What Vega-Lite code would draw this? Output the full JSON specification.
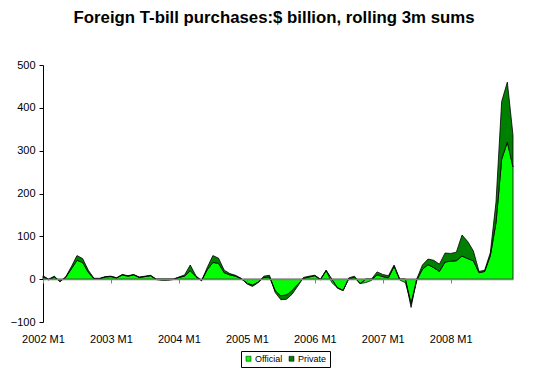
{
  "$schema": "https://vega.github.io/schema/vega-lite/v6.json",
  "autosize": "none",
  "padding": {"left": 43, "top": 65, "right": 34, "bottom": 52},
  "width": 470,
  "height": 257,
  "background": "white",
  "config": {
    "view": {"stroke": null},
    "font": "Liberation Sans"
  },
  "title": {
    "text": "Foreign T-bill purchases:$ billion, rolling 3m sums",
    "font": "Liberation Sans",
    "fontSize": 16.8,
    "fontWeight": "bold",
    "color": "black",
    "anchor": "middle",
    "offset": 32,
    "dx": -4
  },
  "data": {
    "values": [
      {"month": "2002 M1", "Official": 5, "Private": 3},
      {"month": "2002 M2", "Official": -2, "Private": 0},
      {"month": "2002 M3", "Official": 5, "Private": 2},
      {"month": "2002 M4", "Official": -5, "Private": -1},
      {"month": "2002 M5", "Official": 4, "Private": 1},
      {"month": "2002 M6", "Official": 24, "Private": 5},
      {"month": "2002 M7", "Official": 44, "Private": 11},
      {"month": "2002 M8", "Official": 39, "Private": 9},
      {"month": "2002 M9", "Official": 16, "Private": 5},
      {"month": "2002 M10", "Official": 1, "Private": 1},
      {"month": "2002 M11", "Official": 1, "Private": 1},
      {"month": "2002 M12", "Official": 5, "Private": 1},
      {"month": "2003 M1", "Official": 6, "Private": 1},
      {"month": "2003 M2", "Official": 3, "Private": 0},
      {"month": "2003 M3", "Official": 10, "Private": 1},
      {"month": "2003 M4", "Official": 7, "Private": 1},
      {"month": "2003 M5", "Official": 10, "Private": 1},
      {"month": "2003 M6", "Official": 4, "Private": 1},
      {"month": "2003 M7", "Official": 6, "Private": 1},
      {"month": "2003 M8", "Official": 8, "Private": 1},
      {"month": "2003 M9", "Official": -1, "Private": 0},
      {"month": "2003 M10", "Official": -3, "Private": 0},
      {"month": "2003 M11", "Official": -3, "Private": 0},
      {"month": "2003 M12", "Official": -1, "Private": 0},
      {"month": "2004 M1", "Official": 4, "Private": 1},
      {"month": "2004 M2", "Official": 7, "Private": 3},
      {"month": "2004 M3", "Official": 20, "Private": 13},
      {"month": "2004 M4", "Official": 6, "Private": 2},
      {"month": "2004 M5", "Official": -3, "Private": -1},
      {"month": "2004 M6", "Official": 22, "Private": 5},
      {"month": "2004 M7", "Official": 39, "Private": 16},
      {"month": "2004 M8", "Official": 37, "Private": 12},
      {"month": "2004 M9", "Official": 15, "Private": 6},
      {"month": "2004 M10", "Official": 10, "Private": 3},
      {"month": "2004 M11", "Official": 7, "Private": 2},
      {"month": "2004 M12", "Official": 1, "Private": 1},
      {"month": "2005 M1", "Official": -9, "Private": -2},
      {"month": "2005 M2", "Official": -14, "Private": -3},
      {"month": "2005 M3", "Official": -7, "Private": -1},
      {"month": "2005 M4", "Official": 4, "Private": 3},
      {"month": "2005 M5", "Official": 5, "Private": 4},
      {"month": "2005 M6", "Official": -27, "Private": -4},
      {"month": "2005 M7", "Official": -39, "Private": -9},
      {"month": "2005 M8", "Official": -37, "Private": -10},
      {"month": "2005 M9", "Official": -27, "Private": -8},
      {"month": "2005 M10", "Official": -12, "Private": -4},
      {"month": "2005 M11", "Official": 2, "Private": 2},
      {"month": "2005 M12", "Official": 5, "Private": 2},
      {"month": "2006 M1", "Official": 8, "Private": 1},
      {"month": "2006 M2", "Official": -2, "Private": 0},
      {"month": "2006 M3", "Official": 20, "Private": 1},
      {"month": "2006 M4", "Official": -8, "Private": 0},
      {"month": "2006 M5", "Official": -20, "Private": -1},
      {"month": "2006 M6", "Official": -26, "Private": -1},
      {"month": "2006 M7", "Official": 1, "Private": 2},
      {"month": "2006 M8", "Official": 4, "Private": 3},
      {"month": "2006 M9", "Official": -10, "Private": -1},
      {"month": "2006 M10", "Official": -8, "Private": 0},
      {"month": "2006 M11", "Official": -3, "Private": 0},
      {"month": "2006 M12", "Official": 10, "Private": 7},
      {"month": "2007 M1", "Official": 6, "Private": 5},
      {"month": "2007 M2", "Official": 3, "Private": 5},
      {"month": "2007 M3", "Official": 30, "Private": 3},
      {"month": "2007 M4", "Official": -2, "Private": 0},
      {"month": "2007 M5", "Official": -8, "Private": 0},
      {"month": "2007 M6", "Official": -57, "Private": -9},
      {"month": "2007 M7", "Official": -4, "Private": 0},
      {"month": "2007 M8", "Official": 23, "Private": 10},
      {"month": "2007 M9", "Official": 34, "Private": 13},
      {"month": "2007 M10", "Official": 27, "Private": 17},
      {"month": "2007 M11", "Official": 18, "Private": 17},
      {"month": "2007 M12", "Official": 40, "Private": 21},
      {"month": "2008 M1", "Official": 42, "Private": 18},
      {"month": "2008 M2", "Official": 43, "Private": 20},
      {"month": "2008 M3", "Official": 54, "Private": 49},
      {"month": "2008 M4", "Official": 48, "Private": 40},
      {"month": "2008 M5", "Official": 43, "Private": 23},
      {"month": "2008 M6", "Official": 15, "Private": 3},
      {"month": "2008 M7", "Official": 18, "Private": 3},
      {"month": "2008 M8", "Official": 55, "Private": 7},
      {"month": "2008 M9", "Official": 132, "Private": 48},
      {"month": "2008 M10", "Official": 280, "Private": 135},
      {"month": "2008 M11", "Official": 320, "Private": 140},
      {"month": "2008 M12", "Official": 262, "Private": 74}
    ]
  },
  "transform": [
    {"fold": ["Official", "Private"], "as": ["series", "value"]}
  ],
  "mark": {
    "type": "area",
    "interpolate": "linear",
    "stroke": "black",
    "strokeWidth": 0.8,
    "strokeJoin": "round"
  },
  "encoding": {
    "x": {
      "field": "month",
      "type": "ordinal",
      "sort": null,
      "scale": {"type": "point", "padding": 0},
      "axis": {
        "title": null,
        "values": ["2002 M1", "2003 M1", "2004 M1", "2005 M1", "2006 M1", "2007 M1", "2008 M1"],
        "labelAngle": 0,
        "labelFont": "Liberation Sans",
        "labelFontSize": 11,
        "labelColor": "black",
        "domainColor": "#808080",
        "domainWidth": 1.5,
        "tickColor": "#808080",
        "tickSize": 4,
        "offset": -43,
        "labelPadding": 50,
        "zindex": 1,
        "grid": false
      }
    },
    "y": {
      "field": "value",
      "type": "quantitative",
      "stack": "zero",
      "scale": {"domain": [-100, 500], "nice": false, "zero": false},
      "axis": {
        "title": null,
        "values": [-100, 0, 100, 200, 300, 400, 500],
        "grid": false,
        "labelFont": "Liberation Sans",
        "labelFontSize": 11,
        "labelColor": "black",
        "domainColor": "black",
        "tickColor": "black",
        "tickSize": 4,
        "labelPadding": 4
      }
    },
    "order": {"field": "series", "sort": "ascending"},
    "color": {
      "field": "series",
      "type": "nominal",
      "scale": {"domain": ["Official", "Private"], "range": ["#00FF00", "#008000"]},
      "legend": {
        "title": null,
        "orient": "none",
        "legendX": 198,
        "legendY": 286,
        "direction": "horizontal",
        "strokeColor": "black",
        "padding": 3,
        "symbolType": "square",
        "symbolSize": 25,
        "symbolStrokeColor": "black",
        "symbolStrokeWidth": 0.5,
        "labelFont": "Liberation Sans",
        "labelFontSize": 9,
        "labelColor": "black",
        "columnPadding": 4,
        "labelOffset": 2
      }
    }
  }
}
